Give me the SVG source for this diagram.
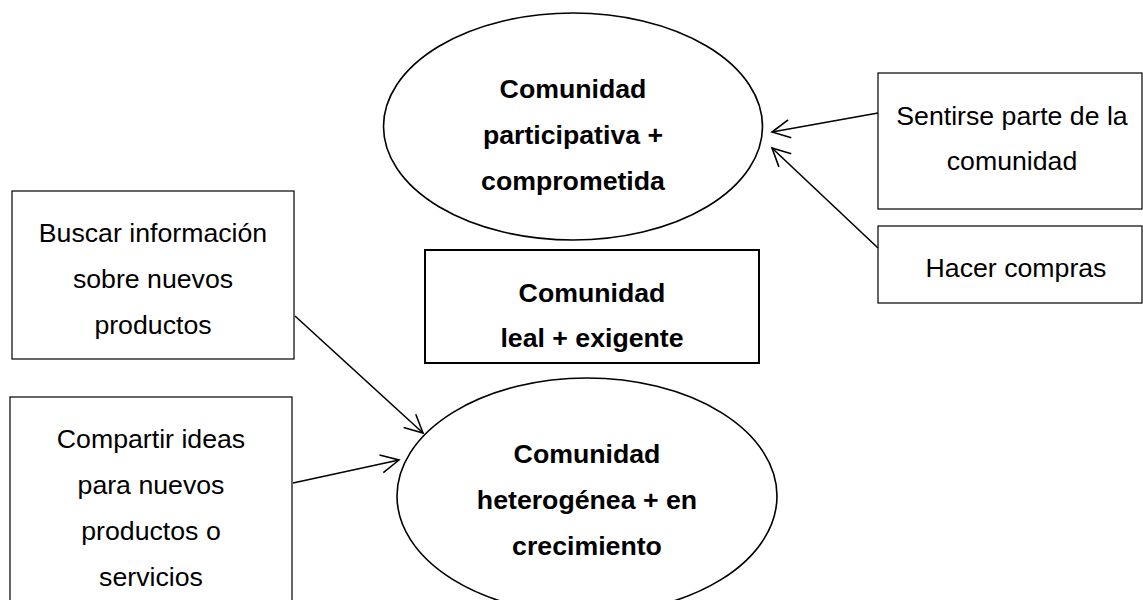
<svg xmlns="http://www.w3.org/2000/svg" width="1143" height="600" viewBox="0 0 1143 600">
<style>
.bg{fill:#ffffff}
.box{fill:#ffffff;stroke:#000000;stroke-width:1.2}
.boxb{fill:#ffffff;stroke:#000000;stroke-width:2}
.ell{fill:#ffffff;stroke:#000000;stroke-width:1.6}
.t{font-family:"Liberation Sans",Arial,sans-serif;font-size:26.7px;fill:#000000;text-anchor:middle}
.b{font-weight:bold}
.con{fill:none;stroke:#000000;stroke-width:1.6}
</style>
<defs>
<marker id="arr" markerUnits="userSpaceOnUse" viewBox="-20 -11 22 22" refX="0" refY="0" markerWidth="22" markerHeight="22" orient="auto" overflow="visible">
<path d="M-18,-9 L0,0 L-18,9" fill="none" stroke="#000000" stroke-width="1.6"/>
</marker>
</defs>
<rect class="bg" x="0" y="0" width="1143" height="600"/>
<g id="node-participativa">
<ellipse class="ell" cx="573" cy="126.5" rx="189.5" ry="113.5"/>
<text class="t b" x="573" y="98">Comunidad</text>
<text class="t b" x="573" y="144">participativa +</text>
<text class="t b" x="573" y="190">comprometida</text>
</g>
<g id="node-sentirse">
<rect class="box" x="878" y="73" width="264" height="136"/>
<text class="t" x="1012" y="125">Sentirse parte de la</text>
<text class="t" x="1012" y="170">comunidad</text>
</g>
<g id="node-compras">
<rect class="box" x="878" y="226" width="264" height="77"/>
<text class="t" x="1016" y="277">Hacer compras</text>
</g>
<g id="node-leal">
<rect class="boxb" x="425" y="250" width="334" height="113"/>
<text class="t b" x="592" y="302">Comunidad</text>
<text class="t b" x="592" y="347">leal + exigente</text>
</g>
<g id="node-buscar">
<rect class="box" x="12" y="191" width="282" height="168"/>
<text class="t" x="153" y="242">Buscar información</text>
<text class="t" x="153" y="288">sobre nuevos</text>
<text class="t" x="153" y="334">productos</text>
</g>
<g id="node-compartir">
<rect class="box" x="10" y="397" width="282" height="220"/>
<text class="t" x="151" y="448">Compartir ideas</text>
<text class="t" x="151" y="494">para nuevos</text>
<text class="t" x="151" y="540">productos o</text>
<text class="t" x="151" y="586">servicios</text>
</g>
<g id="node-heterogenea">
<ellipse class="ell" cx="587" cy="496" rx="190" ry="118"/>
<text class="t b" x="587" y="463">Comunidad</text>
<text class="t b" x="587" y="509">heterogénea + en</text>
<text class="t b" x="587" y="555">crecimiento</text>
</g>
<g id="connectors">
<line class="con" x1="878" y1="113" x2="772" y2="132" marker-end="url(#arr)"/>
<line class="con" x1="878" y1="248" x2="772" y2="148" marker-end="url(#arr)"/>
<line class="con" x1="295" y1="316" x2="423" y2="433" marker-end="url(#arr)"/>
<line class="con" x1="293" y1="483" x2="399" y2="460" marker-end="url(#arr)"/>
</g>
</svg>
